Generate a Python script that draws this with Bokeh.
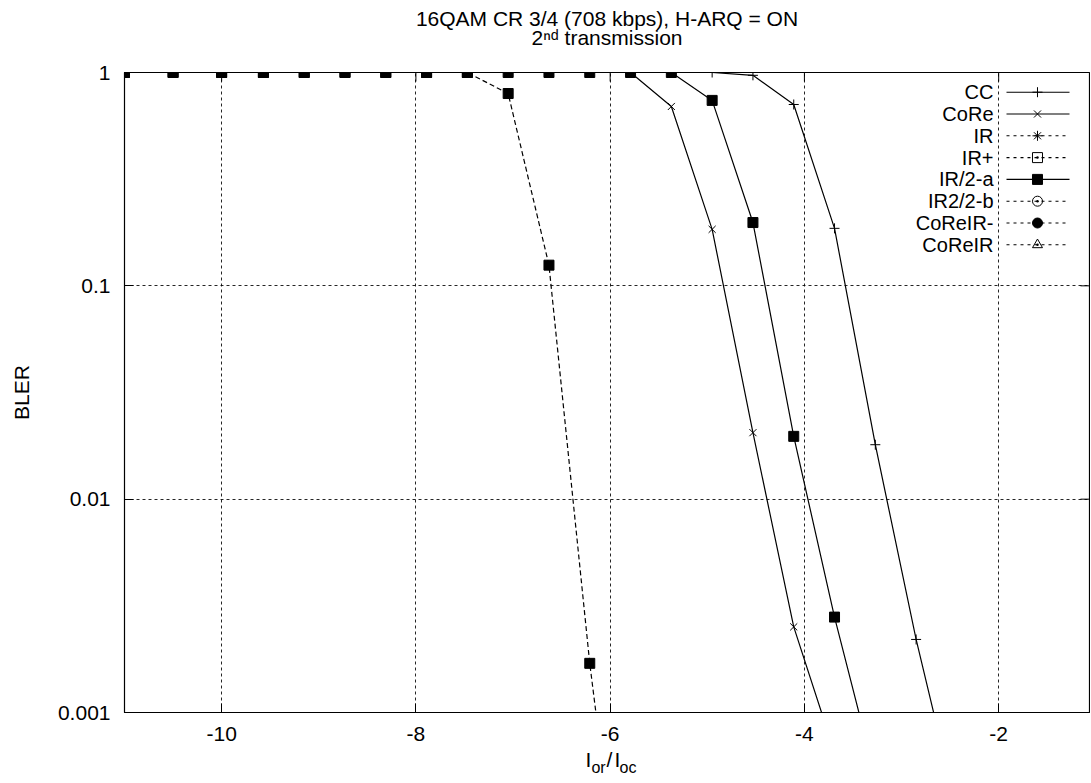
from bokeh.plotting import figure
from bokeh.models import FixedTicker, Label, Range1d, Title, LinearAxis
from bokeh.embed import file_html
from bokeh.resources import INLINE

# ---------------- data ----------------
title_line1 = "16QAM CR 3/4 (708 kbps), H-ARQ = ON"
title_line2 = "2\u207f\u1d48 transmission"
y_label = "BLER"
x_label_main = ["I", "/", "I"]
x_label_sub = ["or", "oc"]

x_ticks = [-10, -8, -6, -4, -2]
x_tick_labels = ["-10", "-8", "-6", "-4", "-2"]
y_ticks = [1, 0.1, 0.01, 0.001]
y_tick_labels = ["1", "0.1", "0.01", "0.001"]

snr = [-11, -10.5, -10, -9.57, -9.15, -8.73, -8.31, -7.89, -7.47, -7.05, -6.63,
       -6.21, -5.79, -5.37, -4.95, -4.53, -4.11, -3.69, -3.27, -2.85, -2.43]

cc_bler = [1, 1, 1, 1, 1, 1, 1, 1, 1, 1, 1, 1, 1, 1, 1,
           0.97, 0.708, 0.186, 0.018, 0.0022, 0.00035]
core_bler = [1, 1, 1, 1, 1, 1, 1, 1, 1, 1, 1, 1, 1,
             0.693, 0.184, 0.0205, 0.00252, 0.00065]
ir2a_bler = [1, 1, 1, 1, 1, 1, 1, 1, 1, 1, 1, 1, 1, 1,
             0.74, 0.198, 0.0197, 0.0028, 0.0005]
# dashed curve drawn with filled squares (left-most curve)
dashed_bler = [1, 1, 1, 1, 1, 1, 1, 1, 1,
               0.797, 0.125, 0.0017, 0.00005]

legend_labels = ["CC", "CoRe", "IR", "IR+", "IR/2-a", "IR2/2-b", "CoReIR-", "CoReIR"]
legend_dash = ["solid", "solid", "3 4", "3 4", "solid", "3 4", "3 4", "3 4"]
legend_marker = ["cross", "x", "asterisk", "square_dot", "square", "circle_dot", "circle", "triangle_dot"]
legend_fill = [None, None, None, None, "black", None, "black", None]

# ---------------- layout constants ----------------
FONT = "Liberation Sans"
FW, FH = 965, 640
X0, X1 = -11.0, -1.065
Y0, Y1 = 0.001, 1.0
DEC_PX = FH / 3.0
TICK = 9


def px_to_x(px):
    return round(X0 + px * (X1 - X0) / FW, 5)


def px_to_y(py_from_top):
    return 10 ** (-py_from_top / DEC_PX)


p = figure(frame_width=FW, frame_height=FH, x_range=Range1d(X0, X1),
           y_range=Range1d(Y0, Y1), y_axis_type="log", title=None,
           output_backend="svg", toolbar_location=None,
           min_border_left=124, min_border_right=1, min_border_top=72,
           min_border_bottom=66)
p.background_fill_color = "white"
p.border_fill_color = "white"
p.outline_line_color = "black"
p.outline_line_width = 1.2

# titles (later added = further from the frame)
p.add_layout(Title(text=title_line2, align="center", text_font=FONT, text_font_size="21px",
                   text_font_style="normal", text_color="black", standoff=47), "above")
p.add_layout(Title(text=title_line1, align="center", text_font=FONT, text_font_size="21px",
                   text_font_style="normal", text_color="black", standoff=-58), "above")

# axes
xa = p.xaxis[0]
xa.ticker = FixedTicker(ticks=x_ticks)
xa.major_label_overrides = dict(zip(x_ticks, x_tick_labels))
ya = p.yaxis[0]
ya.ticker = FixedTicker(ticks=y_ticks)
ya.major_label_overrides = dict(zip(y_ticks, y_tick_labels))
for ax in (xa, ya):
    ax.major_tick_in = TICK
    ax.major_tick_out = 0
    ax.minor_tick_in = 0
    ax.minor_tick_out = 0
    ax.axis_line_color = "black"
    ax.major_tick_line_color = "black"
    ax.major_label_text_font = FONT
    ax.major_label_text_font_size = "21px"
    ax.major_label_text_color = "black"
xa.major_label_standoff = 14
ya.major_label_standoff = 14
ya.axis_label = y_label
ya.axis_label_text_font = FONT
ya.axis_label_text_font_size = "21px"
ya.axis_label_text_font_style = "normal"
ya.axis_label_text_color = "black"
ya.axis_label_standoff = 22

# x-axis title "I_or/I_oc" built from two label-only axes stacked below
main_pos = [px_to_x(464), px_to_x(485), px_to_x(493)]
sub_pos = [px_to_x(474), px_to_x(503.5)]
for labels, pos, fs, stand in ((x_label_main, main_pos, "21px", 4),
                               (x_label_sub, sub_pos, "16px", -15)):
    ax = LinearAxis(ticker=FixedTicker(ticks=pos, minor_ticks=[]),
                    major_label_overrides=dict(zip(pos, labels)))
    ax.axis_line_color = None
    ax.major_tick_line_color = None
    ax.minor_tick_line_color = None
    ax.major_tick_in = 0
    ax.major_tick_out = 0
    ax.minor_tick_in = 0
    ax.minor_tick_out = 0
    ax.major_label_standoff = stand
    ax.major_label_text_font = FONT
    ax.major_label_text_font_size = fs
    ax.major_label_text_color = "black"
    p.add_layout(ax, "below")

# grid
p.xgrid.ticker = FixedTicker(ticks=x_ticks)
p.ygrid.ticker = FixedTicker(ticks=y_ticks)
for g in (p.xgrid, p.ygrid):
    g.grid_line_color = "black"
    g.grid_line_alpha = 0.85
    g.grid_line_width = 1
    g.grid_line_dash = "3 3"

# mirrored ticks on top and right border
p.segment(x0=x_ticks, y0=[Y1] * len(x_ticks), x1=x_ticks, y1=[px_to_y(TICK)] * len(x_ticks),
          line_color="black", line_width=1)
p.segment(x0=[px_to_x(FW - TICK)] * len(y_ticks), y0=y_ticks, x1=[X1] * len(y_ticks), y1=y_ticks,
          line_color="black", line_width=1)

# curves
n = len(dashed_bler)
p.line(snr[:n], dashed_bler, line_color="black", line_width=1.2, line_dash="5 3")
p.scatter(snr[:n], dashed_bler, marker="square", size=10, fill_color="black", line_color="black")

n = len(ir2a_bler)
p.line(snr[:n], ir2a_bler, line_color="black", line_width=1.2)
p.scatter(snr[:n], ir2a_bler, marker="square", size=10, fill_color="black", line_color="black")

n = len(core_bler)
p.line(snr[:n], core_bler, line_color="black", line_width=1.2)
p.scatter(snr[:n], core_bler, marker="x", size=10, line_color="black", line_width=1)

n = len(cc_bler)
p.line(snr[:n], cc_bler, line_color="black", line_width=1.2)
p.scatter(snr[:n], cc_bler, marker="cross", size=10, line_color="black", line_width=1)

# legend (label left, sample right)
for i, lab in enumerate(legend_labels):
    t = 19.7 + 21.8 * i
    yv = px_to_y(t)
    p.segment(x0=[px_to_x(882)], y0=[yv], x1=[px_to_x(945)], y1=[yv],
              line_color="black", line_width=1.1, line_dash=legend_dash[i])
    p.scatter(x=[px_to_x(913)], y=[yv], marker=legend_marker[i], size=10,
              line_color="black", fill_color=legend_fill[i], line_width=1)
    p.add_layout(Label(x=869, y=FH - t, x_units="screen", y_units="screen", text=lab,
                       text_align="right", text_baseline="middle",
                       text_font=FONT, text_font_size="20px", text_color="black"))

open("out.html", "w").write(file_html(p, INLINE))
